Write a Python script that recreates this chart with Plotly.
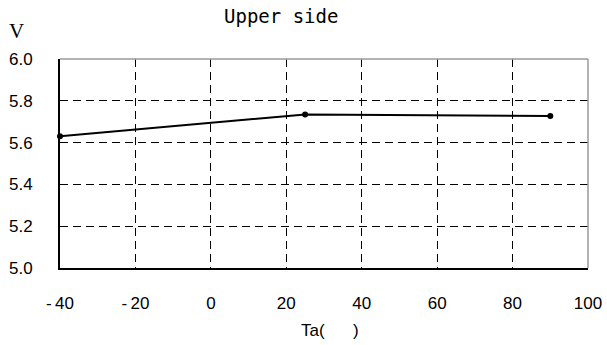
import plotly.graph_objects as go

ta = [-40, 25, 90]
volts = [5.63, 5.735, 5.727]
x_ticks = [-40, -20, 0, 20, 40, 60, 80, 100]
x_labels = ["-\u200940", "-\u200920", "0", "20", "40", "60", "80", "100"]
y_ticks = [5.0, 5.2, 5.4, 5.6, 5.8, 6.0]
y_labels = ["5.0", "5.2", "5.4", "5.6", "5.8", "6.0"]

fig = go.Figure()
fig.add_trace(go.Scatter(
    x=ta, y=volts, mode="lines+markers",
    line=dict(color="black", width=2),
    marker=dict(color="black", size=6),
    cliponaxis=False, showlegend=False,
))

grid = dict(showgrid=True, gridcolor="black", gridwidth=1, griddash="8px,5px")
fig.update_xaxes(
    range=[-40, 100], tickvals=x_ticks, ticktext=x_labels,
    showline=True, linecolor="black", linewidth=2, zeroline=False,
    ticks="", ticklabelstandoff=19, automargin=False,
    tickfont=dict(family="Liberation Sans, Arial", size=17, color="black"),
    **grid,
)
fig.update_yaxes(
    range=[5.0, 6.0], tickvals=y_ticks, ticktext=y_labels,
    showline=True, linecolor="black", linewidth=2, zeroline=False,
    ticks="", ticklabelstandoff=22, automargin=False,
    tickfont=dict(family="Liberation Sans, Arial", size=17, color="black"),
    **grid,
)

# top and right frame in gray
fig.add_shape(type="line", xref="paper", yref="paper", x0=0, x1=1, y0=1, y1=1,
              line=dict(color="#9a9a9a", width=1.5))
fig.add_shape(type="line", xref="paper", yref="paper", x0=1, x1=1, y0=0, y1=1,
              line=dict(color="#9a9a9a", width=1.5))

fig.add_annotation(text="Upper side", xref="paper", yref="paper", x=(281 - 60) / 528, y=1 + (59 - 16) / 209,
                   showarrow=False, xanchor="center", yanchor="middle",
                   font=dict(family="DejaVu Sans Mono", size=19, color="black"))
fig.add_annotation(text="V", xref="paper", yref="paper", x=(16 - 60) / 528, y=1 + (59 - 31) / 209,
                   showarrow=False, xanchor="center", yanchor="middle",
                   font=dict(family="Liberation Serif, Times New Roman", size=21, color="black"))
fig.add_annotation(text="Ta(      )", xref="paper", yref="paper", x=(330 - 60) / 528, y=-(330 - 268) / 209,
                   showarrow=False, xanchor="center", yanchor="middle",
                   font=dict(family="Liberation Sans, Arial", size=17, color="black"))

fig.update_layout(
    width=607, height=345,
    margin=dict(l=60, r=19, t=59, b=77, autoexpand=False),
    paper_bgcolor="white", plot_bgcolor="white",
)
fig.write_html("out.html")
